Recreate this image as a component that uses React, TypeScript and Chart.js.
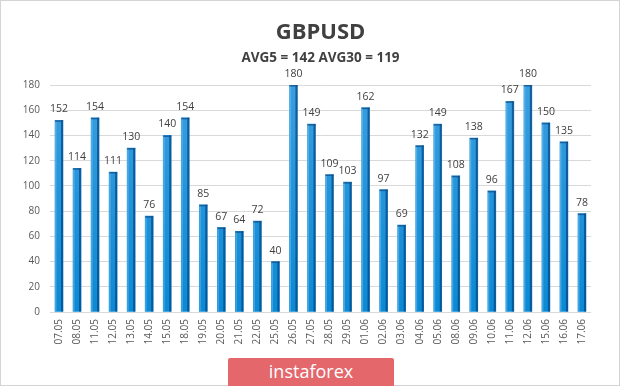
import React, { useEffect, useRef } from "react";
import { Chart, registerables } from "chart.js";

Chart.register(...registerables);

const categories = ["07.05","08.05","11.05","12.05","13.05","14.05","15.05","18.05","19.05","20.05","21.05","22.05","25.05","26.05","27.05","28.05","29.05","01.06","02.06","03.06","04.06","05.06","08.06","09.06","10.06","11.06","12.06","15.06","16.06","17.06"];
const values = [152,114,154,111,130,76,140,154,85,67,64,72,40,180,149,109,103,162,97,69,132,149,108,138,96,167,180,150,135,78];
const titleText = "GBPUSD";
const subtitleText = "AVG5 = 142 AVG30 = 119";
const yMin = 0;
const yMax = 180;
const yStep = 20;

const decorPlugin = {
  id: "decor",
  afterDatasetsDraw(chart: any) {
    const ctx = chart.ctx;
    const area = chart.chartArea;
    const meta = chart.getDatasetMeta(0);
    ctx.save();
    meta.data.forEach((bar: any, i: number) => {
      const w = bar.width;
      const l = bar.x - w / 2;
      const r = bar.x + w / 2;
      const top = bar.y;
      const base = bar.base;
      ctx.fillStyle = "rgba(120,195,240,0.5)";
      ctx.fillRect(l, top, 1.5, base - top);
      ctx.fillStyle = "rgba(10,70,130,0.75)";
      ctx.fillRect(r - 2, top, 2, base - top);
      ctx.fillStyle = "rgba(20,80,140,0.8)";
      ctx.fillRect(l, top, w, 1.5);
      ctx.fillStyle = "#404040";
      ctx.font = "10.5px 'Open Sans', sans-serif";
      ctx.textAlign = "center";
      ctx.textBaseline = "alphabetic";
      ctx.fillText(String(values[i]), bar.x, top - 8);
    });
    const cx = (area.left + area.right) / 2;
    ctx.fillStyle = "#404040";
    ctx.textAlign = "center";
    ctx.textBaseline = "alphabetic";
    ctx.font = "bold 22px 'Open Sans', sans-serif";
    ctx.fillText(titleText, cx, 37.5);
    ctx.font = "bold 13.5px 'Open Sans', sans-serif";
    ctx.fillText(subtitleText, cx, 60.5);
    ctx.restore();
  },
};

export default function App() {
  const ref = useRef<HTMLCanvasElement>(null);
  useEffect(() => {
    document.body.style.margin = "0";
    const c = ref.current!;
    const chart = new Chart(c, {
      type: "bar",
      data: {
        labels: categories,
        datasets: [
          {
            data: values,
            backgroundColor: (context: any) => {
              const ch = context.chart;
              const a = ch.chartArea;
              if (!a) return "#1f8fd6";
              const g = ch.ctx.createLinearGradient(0, a.top, 0, a.bottom);
              g.addColorStop(0, "#3a9fe0");
              g.addColorStop(1, "#0b89d4");
              return g;
            },
            barThickness: 8,
            borderWidth: 0,
          },
        ],
      },
      options: {
        responsive: false,
        animation: false,
        layout: { padding: { top: 84, right: 28, left: 0, bottom: 0 } },
        plugins: { legend: { display: false }, tooltip: { enabled: false }, title: { display: false } },
        scales: {
          x: {
            grid: { display: false, drawTicks: false },
            border: { display: false },
            ticks: {
              minRotation: 90,
              maxRotation: 90,
              autoSkip: false,
              padding: 7,
              color: "#595959",
              font: { family: "'Open Sans', sans-serif", size: 10 },
            },
            afterFit: (s: any) => { s.height = 73; },
          },
          y: {
            min: yMin,
            max: yMax,
            ticks: {
              stepSize: yStep,
              padding: 10,
              color: "#595959",
              font: { family: "'Open Sans', sans-serif", size: 10 },
            },
            grid: { color: "#d9d9d9", lineWidth: 1, drawTicks: false },
            border: { display: false },
            afterFit: (s: any) => { s.width = 49; },
          },
        },
      },
      plugins: [decorPlugin],
    });
    return () => chart.destroy();
  }, []);
  return (
    <div style={{ position: "relative", width: 620, height: 386, boxSizing: "border-box", border: "1px solid #d4d4d4", background: "#fff" }}>
      <canvas ref={ref} width={618} height={384} style={{ display: "block" }} />
      <div style={{ position: "absolute", left: 227, top: 357, width: 166, height: 28, background: "#e3676b", color: "#fff", fontFamily: "'Open Sans', sans-serif", fontSize: 18, lineHeight: "27px", textAlign: "center", borderRadius: "2px 2px 0 0" }}>instaforex</div>
    </div>
  );
}
